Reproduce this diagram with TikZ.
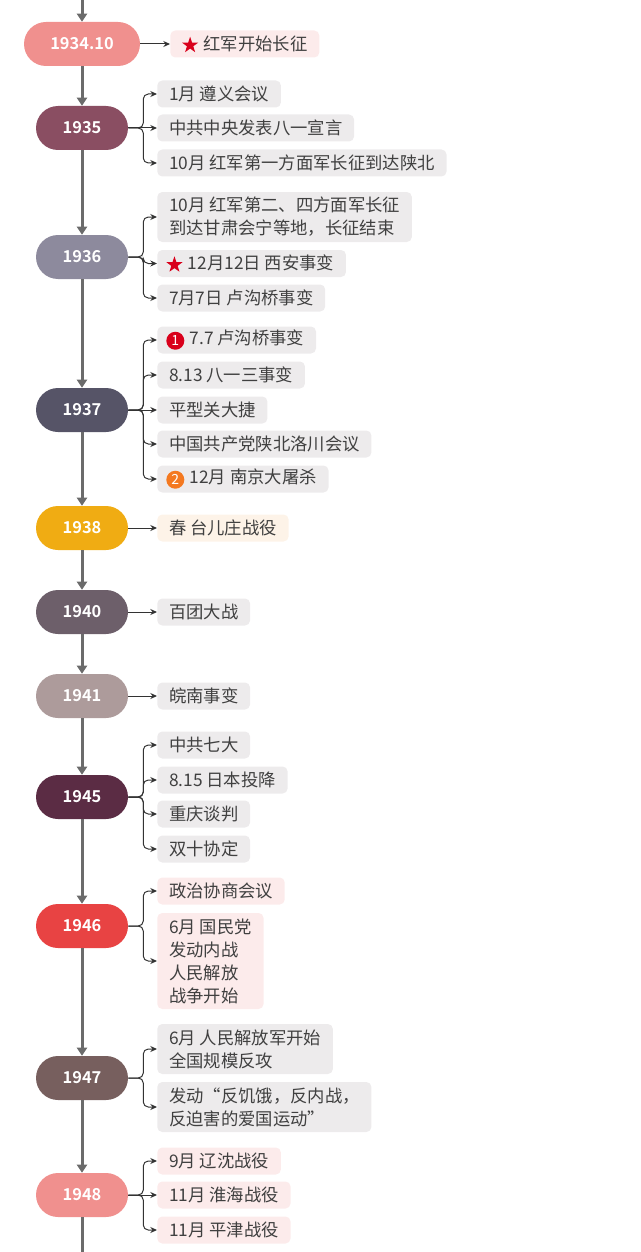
\documentclass[tikz,border=0pt]{standalone}
\usepackage{fontspec}
\setmainfont{Noto Sans CJK SC}[BoldFont={Noto Sans CJK SC Bold}]
\usetikzlibrary{arrows.meta}
\definecolor{spinec}{HTML}{6B6B6B}
\definecolor{linkc}{HTML}{333333}
\definecolor{itemtext}{HTML}{404040}
\definecolor{itemgrey}{HTML}{EDEBEC}
\definecolor{itempink}{HTML}{FCEBEB}
\definecolor{itempeach}{HTML}{FDF3E8}
\definecolor{starred}{HTML}{D9001B}
\definecolor{badgeorange}{HTML}{F47920}
\definecolor{c1934}{HTML}{F0908E}
\definecolor{c1935}{HTML}{8A4E62}
\definecolor{c1936}{HTML}{8D8A9D}
\definecolor{c1937}{HTML}{565467}
\definecolor{c1938}{HTML}{F0AC13}
\definecolor{c1940}{HTML}{6D5F6A}
\definecolor{c1941}{HTML}{AD9B9B}
\definecolor{c1945}{HTML}{5B2C44}
\definecolor{c1946}{HTML}{E84343}
\definecolor{c1947}{HTML}{775F5E}
\definecolor{c1948}{HTML}{F0908E}
\newcommand\numbadge[2]{\tikz[baseline=-0.45ex]\node[circle,fill=#1,text=white,inner sep=0pt,minimum size=13.5pt,font=\fontsize{10.5}{10.5}\selectfont]{#2};}
\newcommand\redstar{\tikz[baseline=-0.55ex,sharp corners]\fill[starred] (90:6.4pt) \foreach \k in {0,...,4} {-- ({126+72*\k}:2.5pt) -- ({162+72*\k}:6.4pt)} -- cycle;}

\begin{document}
\begin{tikzpicture}[x=0.75pt,y=-0.75pt,
	year/.style={rounded corners=16.5pt, minimum width=69pt, minimum height=33pt, inner xsep=6pt, text=white, font=\fontsize{12.3}{14}\selectfont\bfseries},
	item/.style={anchor=west, rounded corners=3.75pt, inner xsep=8.8pt, inner ysep=0pt, minimum height=20.25pt, text=itemtext, align=left, font=\fontsize{13}{17.25}\selectfont},
	grey/.style={item, fill=itemgrey},
	pink/.style={item, fill=itempink},
	peach/.style={item, fill=itempeach},
	link/.style={draw=linkc, line width=0.75pt, rounded corners=3.75pt, -{Stealth[length=5pt,width=4.5pt]}},
	spine/.style={draw=spinec, line width=2.25pt, -{Triangle[length=6pt,width=7.5pt]}}]
	\useasboundingbox (0,0) rectangle (641,1252);

	% years on the spine
	\node[year, fill=c1934, minimum width=87pt] (y1934) at (82,44) {1934.10};
	\node[year, fill=c1935] (y1935) at (82,128) {1935};
	\node[year, fill=c1936] (y1936) at (82,257) {1936};
	\node[year, fill=c1937] (y1937) at (82,410) {1937};
	\node[year, fill=c1938] (y1938) at (82,528) {1938};
	\node[year, fill=c1940] (y1940) at (82,612) {1940};
	\node[year, fill=c1941] (y1941) at (82,696) {1941};
	\node[year, fill=c1945] (y1945) at (82,797) {1945};
	\node[year, fill=c1946] (y1946) at (82,926) {1946};
	\node[year, fill=c1947] (y1947) at (82,1078) {1947};
	\node[year, fill=c1948] (y1948) at (82,1195) {1948};
	\coordinate (top) at (82,0);
	\coordinate (bottom) at (82,1252);

	\draw[spine] (top) -- (y1934.north);
	\foreach \a/\b in {y1934/y1935, y1935/y1936, y1936/y1937, y1937/y1938, y1938/y1940, y1940/y1941, y1941/y1945, y1945/y1946, y1946/y1947, y1947/y1948}
		\draw[spine] (\a.south) -- (\b.north);
	\draw[spinec, line width=2.25pt] (y1948.south) -- (bottom);

	% events
	\node[pink] (i1934) at (170,44) {\redstar\hspace{4pt}红军开始长征};

	\node[grey] (i1935a) at (157,94) {1月 遵义会议};
	\node[grey] (i1935b) at (157,128) {中共中央发表八一宣言};
	\node[grey] (i1935c) at (157,163) {10月 红军第一方面军长征到达陕北};

	\node[grey, minimum height=37.5pt] (i1936a) at (157,217) {10月 红军第二、四方面军长征\\到达甘肃会宁等地，长征结束};
	\node[grey] (i1936b) at (157,263.5) {\hspace{-2pt}\redstar\hspace{4pt}12月12日 西安事变};
	\node[grey] (i1936c) at (157,298) {7月7日 卢沟桥事变};

	\node[grey] (i1937a) at (157,340) {\hspace{-2pt}\numbadge{starred}{1}\hspace{4pt}7.7 卢沟桥事变};
	\node[grey] (i1937b) at (157,375) {8.13 八一三事变};
	\node[grey] (i1937c) at (157,410) {平型关大捷};
	\node[grey] (i1937d) at (157,444) {中国共产党陕北洛川会议};
	\node[grey] (i1937e) at (157,479) {\hspace{-2pt}\numbadge{badgeorange}{2}\hspace{4pt}12月 南京大屠杀};

	\node[peach] (i1938) at (157,528) {春 台儿庄战役};
	\node[grey] (i1940) at (157,612) {百团大战};
	\node[grey] (i1941) at (157,696) {皖南事变};

	\node[grey] (i1945a) at (157,745) {中共七大};
	\node[grey] (i1945b) at (157,780) {8.15 日本投降};
	\node[grey] (i1945c) at (157,814) {重庆谈判};
	\node[grey] (i1945d) at (157,849) {双十协定};

	\node[pink] (i1946a) at (157,891) {政治协商会议};
	\node[pink, minimum height=72pt] (i1946b) at (157,961) {6月 国民党\\发动内战\\人民解放\\战争开始};

	\node[grey, minimum height=37.5pt] (i1947a) at (157,1049) {6月 人民解放军开始\\全国规模反攻};
	\node[grey, minimum height=37.5pt] (i1947b) at (157,1107) {发动“反饥饿，反内战，\\反迫害的爱国运动”};

	\node[pink] (i1948a) at (157,1161) {9月 辽沈战役};
	\node[pink] (i1948b) at (157,1195) {11月 淮海战役};
	\node[pink] (i1948c) at (157,1230) {11月 平津战役};

	% connectors
	\foreach \y/\i in {y1934/i1934, y1935/i1935b, y1937/i1937c, y1938/i1938, y1940/i1940, y1941/i1941, y1948/i1948b}
		\draw[link] (\y.east) -- (\i.west);
	\foreach \y/\i in {y1935/i1935a, y1935/i1935c, y1936/i1936a, y1936/i1936b, y1936/i1936c, y1937/i1937a, y1937/i1937b, y1937/i1937d, y1937/i1937e, y1945/i1945a, y1945/i1945b, y1945/i1945c, y1945/i1945d, y1946/i1946a, y1946/i1946b, y1947/i1947a, y1947/i1947b, y1948/i1948a, y1948/i1948c}
		\draw[link] (\y.east) -- ++(15,0) |- (\i.west);
\end{tikzpicture}
\end{document}
